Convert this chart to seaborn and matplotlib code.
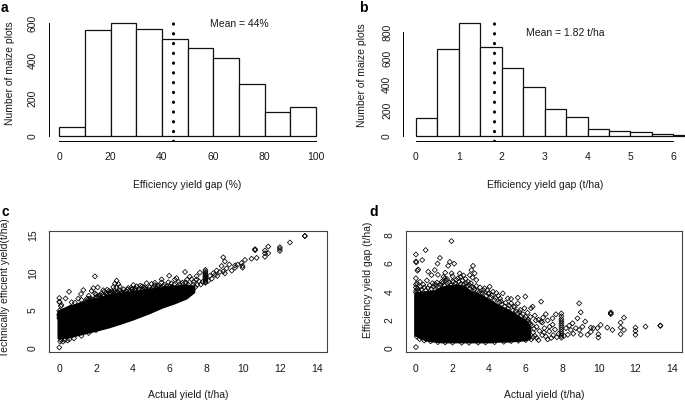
import numpy as np
import matplotlib
matplotlib.use('Agg')
import matplotlib.pyplot as plt
import seaborn as sns

# ---- histogram data ----
pct_edges = [0, 10, 20, 30, 40, 50, 60, 70, 80, 90, 100]
pct_counts = [50, 564, 600, 568, 516, 467, 415, 275, 130, 153]
pct_mean = 44.4

tha_edges = [0, 0.5, 1, 1.5, 2, 2.5, 3, 3.5, 4, 4.5, 5, 5.5, 6, 6.5]
tha_counts = [137, 669, 869, 689, 527, 380, 206, 144, 51, 38, 28, 15, 8]
tha_mean = 1.82

# ---- saturated core of the point clouds (x, lower edge, upper edge) ----
core_d_x = [-0.05, 0.3, 0.7, 1.0, 1.4, 1.8, 2.2, 2.6, 3.0, 3.4, 3.8, 4.1, 4.5, 5.0, 5.5, 6.0, 6.2]
core_d_lo = [0.95, 0.7, 0.55, 0.5, 0.45, 0.45, 0.45, 0.45, 0.45, 0.45, 0.45, 0.45, 0.5, 0.5,
             0.55, 0.6, 0.7]
core_d_hi = [3.9, 3.95, 4.0, 4.05, 4.3, 4.4, 4.45, 4.35, 4.0, 3.8, 3.55, 3.3, 3.0, 2.7, 2.3,
             1.9, 1.5]

core_c_x = [-0.05, 0.5, 1.25, 2.0, 2.7, 3.4, 4.0, 4.9, 5.6, 6.2, 6.9, 7.3]
core_c_lo = [1.35, 1.5, 1.95, 2.4, 2.85, 3.4, 3.9, 4.75, 5.5, 6.0, 6.7, 7.5]
core_c_hi = [4.9, 5.5, 6.0, 6.5, 7.0, 7.3, 7.5, 7.8, 8.0, 8.2, 8.3, 8.2]

# ---- individual plots visible outside the core (actual yield, gap) ----
actual = [
    0.00, 0.00, 0.02, 0.53, 0.34, 0.12, 0.08, 1.94, 1.31, 1.18, 1.85, 2.09, 1.76,
    3.12, 3.03, 3.21, 2.94, 2.39, 0.85, 0.67, 0.00, 0.22, 1.03, 1.58, 2.30, 2.85,
    3.30, 3.75, 4.03, 4.21, 4.75, 5.02, 5.20, 0.05, 0.40, 0.60, 1.20, 1.40, 1.70,
    2.00, 2.15, 2.60, 2.70, 3.00, 3.10, 3.50, 3.90, 4.40, 4.60, 0.90, 1.10,
    0.10, 0.25, 0.45, 0.75, 0.95, 1.15, 1.35, 1.55, 1.65, 1.90, 2.05, 2.25, 2.45,
    2.65, 2.80, 2.95, 3.15, 3.35, 3.45, 3.65, 3.85, 4.10, 4.30, 4.55, 4.70, 4.85,
    5.05, 5.30, 5.55, 5.75, 5.95, 6.10, 6.25,
    0.15, 0.30, 0.55, 0.65, 0.85, 1.05, 1.25, 1.45, 1.50, 1.70, 1.80, 2.00, 2.20,
    2.35, 2.55, 2.75, 2.90, 3.05, 3.20, 3.30, 3.55, 3.70, 3.95, 4.15, 4.35, 4.50,
    4.65, 4.90, 5.10, 5.35, 5.45, 5.65, 5.85, 6.00, 6.15, 4.00, 2.45, 1.95, 1.60,
    2.60, 0.00, 0.00, 0.00, 0.02,
    0.05, 0.20, 0.45, 0.80, 1.20, 1.60, 2.00, 2.50, 2.90, 3.40, 3.80, 4.30, 4.80,
    5.20, 5.60, 6.00, 0.00, 0.10, 0.30, 0.55,
    5.20, 5.57, 5.98, 5.57, 6.84, 6.38, 6.29, 5.93, 5.40, 5.70, 6.10, 6.50, 6.70,
    6.90, 7.10, 7.47, 7.65, 7.47, 7.29, 7.10, 7.02, 6.84, 6.60, 6.40, 6.60, 6.90,
    7.20, 7.50, 7.80, 6.30, 6.10, 6.00, 6.20, 7.30, 7.60, 7.00, 6.50, 6.45, 6.75,
    6.35, 6.55, 6.95, 7.20, 6.25, 6.40, 6.70, 7.40, 7.70,
    7.95, 7.95, 7.95, 7.95, 7.95, 7.95, 7.95, 7.95, 7.95, 7.95, 7.95, 7.95,
    8.20, 8.30, 8.38, 8.47, 8.56, 8.74, 8.83, 8.92, 8.92, 9.01, 9.01, 9.25, 9.38,
    9.56, 9.56, 9.92, 9.97, 9.97, 10.10, 10.46, 10.65, 10.65, 10.65, 10.74, 11.19,
    11.19, 11.19, 11.37, 11.37, 12.00, 12.00, 12.00, 12.55, 13.36, 13.36, 8.60,
    9.10, 9.70, 8.10,
]
gap = [
    6.65, 6.15, 6.08, 6.96, 6.25, 5.58, 5.50, 7.60, 6.40, 6.00, 6.12, 5.99, 5.84,
    5.84, 5.54, 5.30, 5.18, 5.30, 5.18, 5.42, 4.95, 4.70, 5.54, 4.95, 4.95, 4.70,
    4.83, 4.24, 4.36, 4.00, 3.88, 3.52, 3.17, 4.60, 4.50, 4.80, 5.20, 4.70, 4.60,
    5.10, 4.60, 4.50, 4.90, 4.60, 5.00, 4.30, 4.10, 3.90, 3.50, 4.60, 4.40,
    4.20, 4.35, 4.30, 4.45, 4.35, 4.65, 4.50, 4.45, 4.80, 4.45, 4.70, 4.40, 4.55,
    4.30, 4.40, 4.20, 4.30, 4.05, 3.95, 3.90, 3.70, 3.60, 3.40, 3.25, 3.10, 2.95,
    2.80, 2.65, 2.45, 2.25, 2.05, 1.90, 1.65,
    4.05, 4.15, 4.10, 4.25, 4.20, 4.55, 4.35, 4.60, 5.05, 4.90, 4.65, 4.75, 4.85,
    4.70, 4.80, 4.60, 4.50, 4.35, 4.15, 4.40, 3.85, 4.10, 3.85, 3.75, 3.55, 3.70,
    3.30, 3.20, 3.00, 2.95, 2.60, 2.55, 2.40, 2.20, 2.00, 3.90, 5.05, 5.30, 5.35,
    5.15, 4.30, 4.50, 3.95, 4.10,
    0.80, 0.62, 0.52, 0.46, 0.40, 0.38, 0.37, 0.36, 0.36, 0.37, 0.38, 0.40, 0.43,
    0.48, 0.50, 0.55, 0.05, 0.95, 0.75, 0.60,
    3.48, 3.57, 3.65, 3.17, 3.29, 2.93, 2.82, 2.82, 2.90, 2.70, 2.50, 2.30, 2.00,
    1.80, 2.40, 2.10, 2.39, 1.65, 1.17, 0.80, 1.40, 1.87, 1.50, 1.10, 0.70, 0.90,
    0.60, 0.90, 1.00, 0.60, 0.90, 1.40, 1.80, 1.50, 1.30, 1.10, 0.85, 1.35, 1.20,
    1.60, 1.95, 2.15, 1.95, 2.20, 0.75, 0.55, 0.70, 0.75,
    2.45, 2.25, 2.05, 1.90, 1.75, 1.60, 1.45, 1.30, 1.15, 1.00, 0.85, 0.72,
    1.40, 0.93, 1.58, 1.27, 1.75, 1.40, 2.10, 3.17, 1.27, 2.53, 0.93, 1.87, 0.93,
    1.44, 1.13, 1.40, 0.97, 0.73, 1.63, 1.44, 2.46, 2.52, 2.40, 1.27, 1.80,
    1.44, 0.97, 2.15, 1.27, 1.44, 1.20, 0.93, 1.51, 1.56, 1.59, 1.00,
    1.50, 1.40, 0.85,
]

actual = np.array(actual)
gap = np.array(gap)
te_yield = actual + gap   # technically efficient yield = actual + gap

sns.set_style('white')
plt.rcParams['font.family'] = ['Liberation Sans', 'DejaVu Sans']
TXT = '#1a1a1a'
FS = 7.5

W, H = 685, 404
fig = plt.figure(figsize=(W / 100, H / 100), dpi=100)


def px_axes(left, top, right, bottom):
    return fig.add_axes([left / W, 1 - bottom / H, (right - left) / W, (bottom - top) / H])


ax_a = px_axes(49.0, 18.8, 326.3, 140.5)
ax_b = px_axes(403.3, 18.8, 706.0, 140.5)
ax_c = px_axes(49.0, 231.0, 326.9, 352.3)
ax_d = px_axes(405.7, 231.0, 682.3, 352.3)


def style_ticks(ax):
    ax.tick_params(direction='out', length=3.6, width=0.7, color='black',
                   labelsize=FS, labelcolor=TXT, pad=4.5)
    ax.tick_params(axis='y', labelrotation=90)
    for lab in ax.get_yticklabels():
        lab.set_va('center')


def hist_panel(ax, edges, counts, mean, xticks, yticks, xlim, ylim, mean_txt, txt_xy,
               xlabel, xlab_x, ylab_x, ylab_y):
    mids = [(lo + hi) / 2 for lo, hi in zip(edges[:-1], edges[1:])]
    sns.histplot(x=mids, weights=counts, bins=list(edges), ax=ax, color='white',
                 edgecolor='#111111', linewidth=0.9, alpha=1)
    ax.axvline(mean, color='black', lw=2.2, ls=(0, (0.1, 3.1)),
               dash_capstyle='round', zorder=5)
    ax.set_xlim(*xlim)
    ax.set_ylim(*ylim)
    ax.set_xticks(xticks)
    ax.set_yticks(yticks)
    for s in ['top', 'right']:
        ax.spines[s].set_visible(False)
    ax.spines['left'].set_bounds(yticks[0], yticks[-1])
    ax.spines['bottom'].set_bounds(xticks[0], xticks[-1])
    for s in ['left', 'bottom']:
        ax.spines[s].set_color('black')
        ax.spines[s].set_linewidth(0.7)
    ax.text(*txt_xy, mean_txt, ha='center', va='center', fontsize=FS, color=TXT)
    ax.set_xlabel(xlabel, fontsize=FS, color=TXT)
    ax.set_ylabel('Number of maize plots', fontsize=FS, color=TXT)
    ax.xaxis.set_label_coords(xlab_x, -0.325)
    ax.yaxis.set_label_coords(ylab_x, ylab_y)
    style_ticks(ax)


hist_panel(ax_a, pct_edges, pct_counts, pct_mean,
           [0, 20, 40, 60, 80, 100], [0, 200, 400, 600], (-4, 104), (-24, 624),
           'Mean = 44%', (70, 596), 'Efficiency yield gap (%)', 0.4995, -0.124, 0.552)
hist_panel(ax_b, tha_edges, tha_counts, tha_mean,
           [0, 1, 2, 3, 4, 5, 6], [0, 200, 400, 600, 800], (-0.296, 6.76), (-34.8, 903.8),
           'Mean = 1.82 t/ha', (3.49, 796), 'Efficiency yield gap (t/ha)', 0.468, -0.12, 0.538)


def scatter_panel(ax, core_x, core_lo, core_hi, y, yticks, ylim, ylabel, ylab_x, ylab_y):
    ax.fill_between(core_x, core_lo, core_hi, color='black', lw=2.0, zorder=2)
    sns.scatterplot(x=actual, y=y, ax=ax, marker='D', s=6.5, facecolor='none',
                    edgecolor='black', linewidth=0.55, zorder=3)
    ax.set_xlim(-0.56, 14.56)
    ax.set_ylim(*ylim)
    ax.set_xticks(range(0, 15, 2))
    ax.set_yticks(yticks)
    for s in ax.spines.values():
        s.set_color('#444444')
        s.set_linewidth(0.8)
    ax.set_xlabel('Actual yield (t/ha)', fontsize=FS, color=TXT)
    ax.set_ylabel(ylabel, fontsize=FS, color=TXT)
    ax.xaxis.set_label_coords(0.502, -0.311)
    ax.yaxis.set_label_coords(ylab_x, ylab_y)
    style_ticks(ax)


scatter_panel(ax_c, core_c_x, core_c_lo, core_c_hi, te_yield, [0, 5, 10, 15], (-0.6, 15.6),
              'Technically efficient yield(t/ha)', -0.142, 0.53)
scatter_panel(ax_d, core_d_x, core_d_lo, core_d_hi, gap, [0, 2, 4, 6, 8], (-0.32, 8.32),
              'Efficiency yield gap (t/ha)', -0.12, 0.596)

for lab, (x, y) in zip('abcd', [(4.5, 8.5), (363, 8.3), (5.0, 212.3), (373.5, 212.3)]):
    fig.text(x / W, 1 - y / H, lab, ha='center', va='center', fontsize=10,
             fontweight='bold', color='black')

fig.savefig('out.png', dpi=100)
